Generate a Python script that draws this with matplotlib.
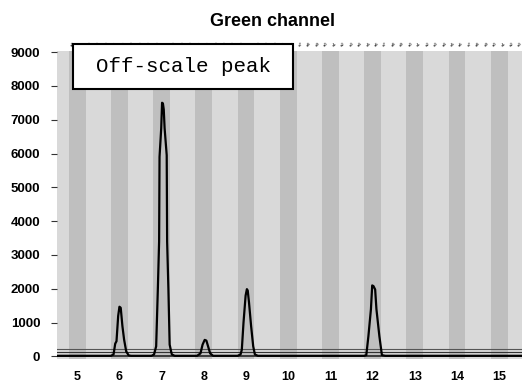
import numpy as np
import matplotlib
matplotlib.use("Agg")
import matplotlib.pyplot as plt
from matplotlib.patches import Rectangle

# trace samples (size in bp units, signal in RFU)
trace_x = [4.52, 5.80, 5.86, 5.90, 5.93, 5.97, 6.00, 6.03, 6.07, 6.11, 6.16, 6.22, 6.28,
           6.76, 6.82, 6.87, 6.91, 6.94, 6.95, 6.99, 7.01, 7.03, 7.05, 7.07, 7.12, 7.13,
           7.16, 7.19, 7.24, 7.31,
           7.84, 7.92, 7.97, 8.02, 8.06, 8.10, 8.15, 8.22,
           8.80, 8.87, 8.90, 8.94, 8.99, 9.02, 9.04, 9.07, 9.12, 9.17, 9.21, 9.28,
           11.80, 11.85, 11.90, 11.96, 11.99, 12.02, 12.06, 12.09, 12.16, 12.22, 12.30,
           15.54]
trace_y = [20, 20, 60, 380, 450, 1200, 1470, 1440, 900, 500, 150, 30, 20,
           20, 60, 300, 2000, 3400, 5900, 6750, 7500, 7480, 7300, 6750, 5950, 3400,
           2000, 350, 60, 20,
           20, 90, 350, 490, 470, 300, 90, 20,
           20, 60, 200, 1000, 1800, 1990, 1950, 1600, 900, 300, 60, 20,
           20, 40, 600, 1400, 2100, 2080, 1980, 1400, 600, 40, 20,
           20]

thresholds = [210, 120]
bins = list(range(5, 16))
bin_labels = [str(b) for b in bins]
yticks = [0, 1000, 2000, 3000, 4000, 5000, 6000, 7000, 8000, 9000]

# small allele marker labels along the top edge
marker_pos = np.arange(4.90, 15.55, 0.2)
marker_labels = ["a" + str(i % 10) for i in range(len(marker_pos))]

fig = plt.figure(figsize=(5.24, 3.83), dpi=100)
ax = fig.add_axes([57 / 524, 1 - 358.5 / 383, 465 / 524, 307.5 / 383])
ax.set_facecolor("#d9d9d9")
ax.set_xlim(4.52, 15.54)
ax.set_ylim(-60, 9030)

for b in bins:
    ax.axvspan(b - 0.2, b + 0.2, color="#bfbfbf", lw=0, zorder=0)

for t, c in zip(thresholds, ["#555555", "#333333"]):
    ax.axhline(t, color=c, lw=0.8, zorder=1)
ax.axhline(0, color="#222222", lw=1.2, zorder=1)

ax.plot(trace_x, trace_y, color="black", lw=1.6, zorder=3)

for s in ax.spines.values():
    s.set_visible(False)

ax.set_yticks(yticks)
ax.set_yticklabels([str(v) for v in yticks], fontsize=9.5, fontweight="bold",
                   family="Liberation Sans")
ax.tick_params(axis="y", length=4, width=0.8, color="#333333", pad=8)
ax.set_xticks(bins)
ax.set_xticklabels(bin_labels, fontsize=9, fontweight="bold", family="Liberation Sans")
ax.tick_params(axis="x", length=0, pad=9)

for p, lab in zip(marker_pos, marker_labels):
    ax.text(p, 1.012, lab, transform=ax.get_xaxis_transform(), rotation=45,
            fontsize=3, color="#111111", ha="center", va="bottom", clip_on=False)

fig.text(272 / 524, 1 - 21 / 383, "Green channel", ha="center", va="center",
         fontsize=13, fontweight="bold", family="Liberation Sans")

box = Rectangle((73 / 524, 1 - 89 / 383), 220 / 524, 45 / 383, transform=fig.transFigure,
                facecolor="white", edgecolor="black", lw=1.5, zorder=5)
fig.patches.append(box)
fig.text(183 / 524, 1 - 66.5 / 383, "Off-scale peak", ha="center", va="center",
         fontsize=15, family="Liberation Mono", zorder=6)

fig.savefig("out.png", dpi=100)
